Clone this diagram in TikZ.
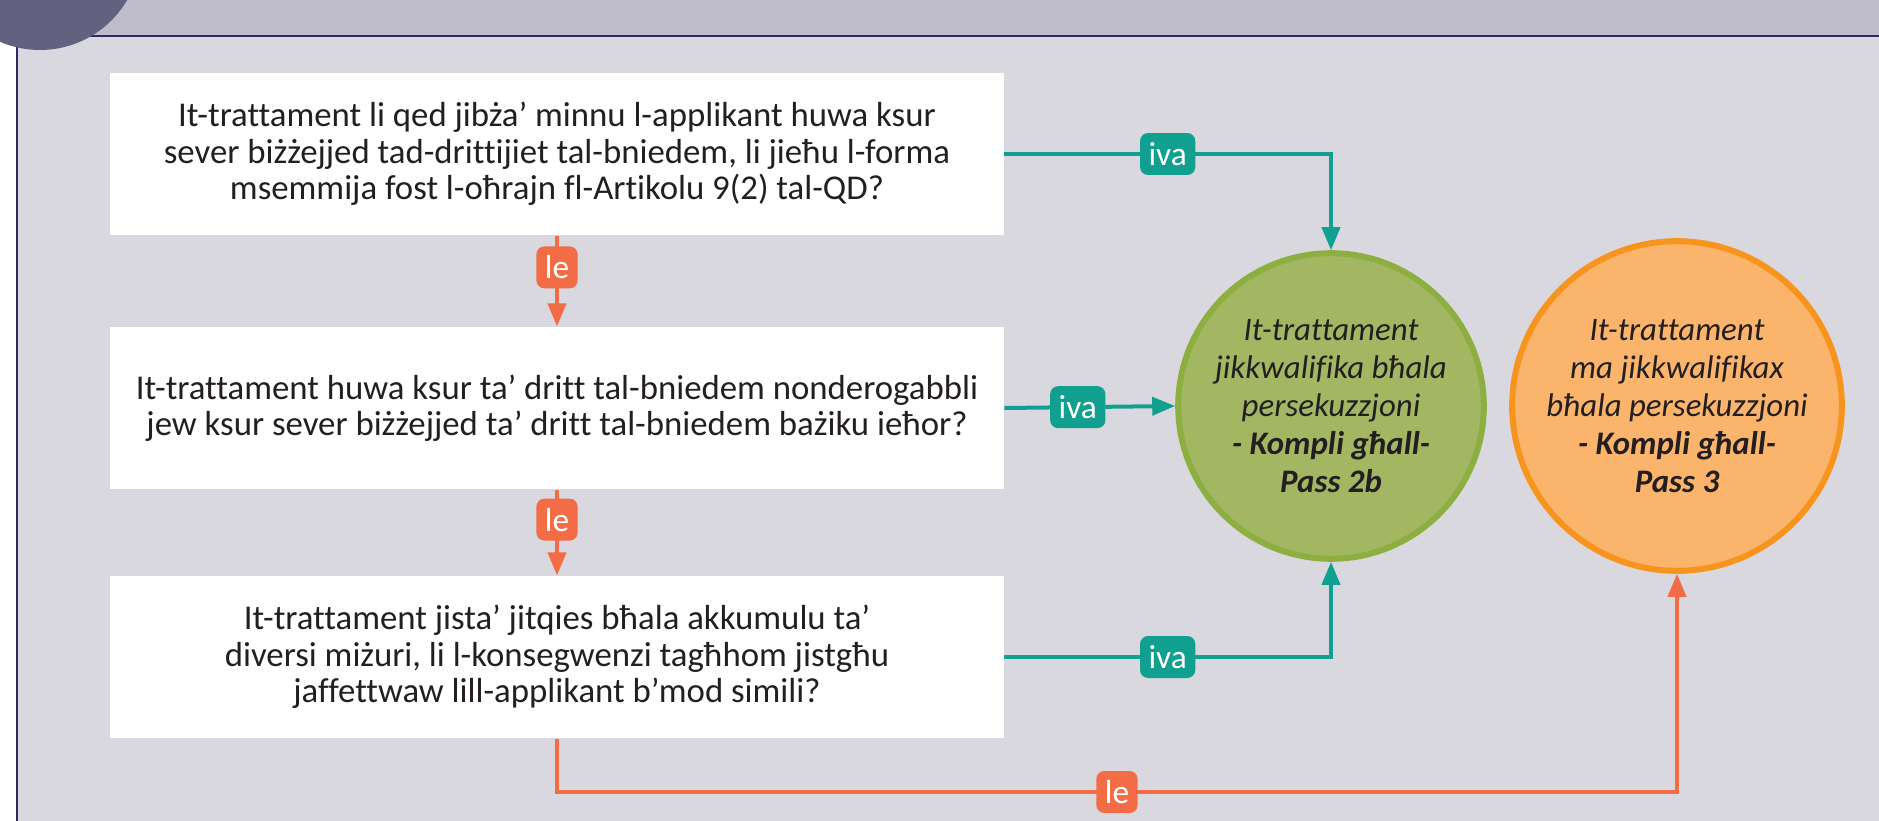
\documentclass[tikz,border=0pt]{standalone}
\usepackage{fontspec}
\setmainfont{Carlito}[Ligatures=NoCommon]
\usetikzlibrary{arrows.meta}

\definecolor{bandgray}{HTML}{BFBCCB}
\definecolor{panelgray}{HTML}{D9D8DF}
\definecolor{framenavy}{HTML}{2E2B5F}
\definecolor{discnavy}{HTML}{626180}
\definecolor{ivateal}{HTML}{11A08F}
\definecolor{leorange}{HTML}{F26C45}
\definecolor{greenfill}{HTML}{A3B763}
\definecolor{greenedge}{HTML}{8DAE40}
\definecolor{orangefill}{HTML}{FBB46B}
\definecolor{orangeedge}{HTML}{F7941D}
\definecolor{inktext}{HTML}{231F20}

\begin{document}
\begin{tikzpicture}[x=0.02cm,y=-0.02cm,
		qbox/.style={fill=white,minimum width=17.88cm,minimum height=3.25cm,align=center,text=inktext,
			font=\fontsize{19.8}{20.8}\selectfont},
		endcircle/.style={circle,line width=0.12cm,minimum size=6.04cm,align=center,text=inktext,
			font=\fontsize{18.7}{21.6}\selectfont\itshape},
		ivaline/.style={draw=ivateal,line width=0.08cm,-{Triangle[length=0.46cm,width=0.36cm]}},
		leline/.style={draw=leorange,line width=0.08cm,-{Triangle[length=0.46cm,width=0.36cm]}},
		ivatag/.style={fill=ivateal,text=white,rounded corners=0.16cm,minimum height=0.84cm,inner xsep=0.17cm,
			font=\fontsize{19}{21}\selectfont},
		letag/.style={ivatag,fill=leorange}]
		\clip (0,0) rectangle (1879,821);
		% background and frame
		\fill [white] (0,0) rectangle (1879,821);
		\fill [panelgray] (17,36) rectangle (1879,821);
		\fill [bandgray] (0,0) rectangle (1879,36);
		\draw [framenavy,line width=0.04cm] (0,36) -- (1879,36);
		\draw [framenavy,line width=0.04cm] (17,36) -- (17,821);
		\fill [discnavy] (40,-51) circle (101);
		% questions
		\node [qbox] (q1) at (557,154) {It-trattament li qed jibża’ minnu l-applikant huwa ksur\\sever biżżejjed tad-drittijiet tal-bniedem, li jieħu l-forma\\msemmija fost l-oħrajn fl-Artikolu 9(2) tal-QD?};
		\node [qbox] (q2) at (557,408) {It-trattament huwa ksur ta’ dritt tal-bniedem nonderogabbli\\jew ksur sever biżżejjed ta’ dritt tal-bniedem bażiku ieħor?};
		\node [qbox] (q3) at (557,657) {It-trattament jista’ jitqies bħala akkumulu ta’\\diversi miżuri, li l-konsegwenzi tagħhom jistgħu\\jaffettwaw lill-applikant b’mod simili?};
		% outcomes
		\node [endcircle,fill=greenfill,draw=greenedge] (pass2b) at (1331,406) {It-trattament\\jikkwalifika bħala\\persekuzzjoni\\\textbf{- Kompli għall-}\\\textbf{Pass 2b}};
		\node [endcircle,fill=orangefill,draw=orangeedge] (pass3) at (1677,406) {It-trattament\\ma jikkwalifikax\\bħala persekuzzjoni\\\textbf{- Kompli għall-}\\\textbf{Pass 3}};
		\coordinate (lebase) at (557,792);
		% iva
		\draw [ivaline] (q1.east) -| (pass2b.north) node [ivatag,pos=0.25] (iva1) {iva};
		\draw [ivaline] (q2.east) -- (pass2b.west) node [ivatag,pos=0.43] (iva2) {iva};
		\draw [ivaline] (q3.east) -| (pass2b.south) node [ivatag,pos=0.25] (iva3) {iva};
		% le
		\draw [leline] (q1.south) -- (q2.north) node [letag,pos=0.35] (le1) {le};
		\draw [leline] (q2.south) -- (q3.north) node [letag,pos=0.35] (le2) {le};
		\draw [leline] (q3.south) |- (lebase -| pass3.south) node [letag,pos=0.75] (le3) {le} -- (pass3.south);
\end{tikzpicture}
\end{document}
